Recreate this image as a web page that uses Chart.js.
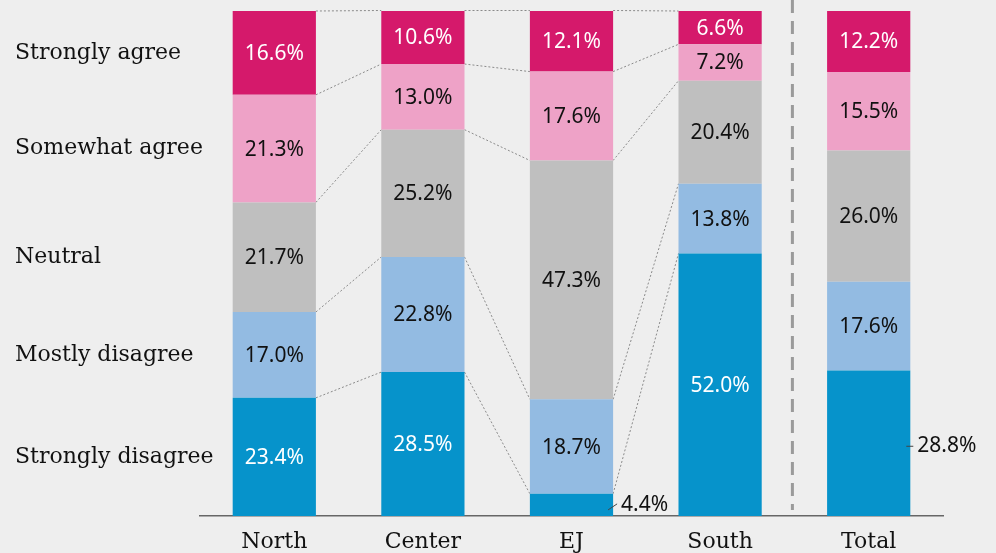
<!DOCTYPE html>
<html>
<head>
<meta charset="utf-8">
<script src="https://cdn.jsdelivr.net/npm/chart.js@4"></script>
<style>
  html, body { margin: 0; padding: 0; background: #eeeeee; }
  #wrap { width: 996px; height: 553px; }
</style>
</head>
<body>
<div id="wrap"><canvas id="chart" width="996" height="553"></canvas></div>
<script>
var regions = ['North', 'Center', 'EJ', 'South', 'Total'];
var answers = ['Strongly disagree', 'Mostly disagree', 'Neutral', 'Somewhat agree', 'Strongly agree'];

// bottom to top
var stronglyDisagree = [23.4, 28.5, 4.4, 52.0, 28.8];
var mostlyDisagree   = [17.0, 22.8, 18.7, 13.8, 17.6];
var neutral          = [21.7, 25.2, 47.3, 20.4, 26.0];
var somewhatAgree    = [21.3, 13.0, 17.6, 7.2, 15.5];
var stronglyAgree    = [16.6, 10.6, 12.1, 6.6, 12.2];

var colors = ['#0693cb', '#93bbe2', '#bfbfbf', '#eea2c7', '#d5196b'];
var labelColors = ['#ffffff', '#111111', '#111111', '#111111', '#ffffff'];
var serif = '"DejaVu Serif", serif';
var sans = '"Noto Sans", sans-serif';

var series = [stronglyDisagree, mostlyDisagree, neutral, somewhatAgree, stronglyAgree];

// dotted lines joining the segment edges of neighbouring bars (not to Total)
var connectors = {
    id: 'connectors',
    beforeDatasetsDraw: function(chart) {
        var ctx = chart.ctx;
        ctx.save();
        ctx.strokeStyle = '#8a8a8a';
        ctx.lineWidth = 1;
        ctx.setLineDash([2, 2]);
        for (var d = 0; d < series.length; d++) {
            var bars = chart.getDatasetMeta(d).data;
            for (var j = 0; j < 3; j++) {
                var a = bars[j], b = bars[j + 1];
                ctx.beginPath();
                ctx.moveTo(a.x + a.width / 2, a.y);
                ctx.lineTo(b.x - b.width / 2, b.y);
                ctx.stroke();
            }
        }
        // separator before Total
        var x = chart.scales.x;
        var sepX = (x.getPixelForValue(3) + x.getPixelForValue(4)) / 2 - 2;
        ctx.strokeStyle = '#9a9a9a';
        ctx.lineWidth = 3;
        ctx.setLineDash([13, 8]);
        ctx.beginPath();
        ctx.moveTo(sepX, 0);
        ctx.lineTo(sepX, chart.chartArea.bottom - 6);
        ctx.stroke();
        ctx.restore();
    }
};

var valueLabels = {
    id: 'valueLabels',
    afterDatasetsDraw: function(chart) {
        var ctx = chart.ctx;
        ctx.save();
        ctx.font = '21px ' + sans;
        ctx.textBaseline = 'middle';
        for (var d = 0; d < series.length; d++) {
            var bars = chart.getDatasetMeta(d).data;
            for (var j = 0; j < bars.length; j++) {
                var el = bars[j];
                var txt = series[d][j].toFixed(1) + '%';
                var cy = (el.y + el.base) / 2;
                var right = el.x + el.width / 2;
                if (d === 0 && j === 2) {
                    // small EJ segment: label outside with a leader
                    ctx.strokeStyle = '#444';
                    ctx.lineWidth = 1;
                    ctx.beginPath();
                    ctx.moveTo(right - 5, cy + 5);
                    ctx.lineTo(right + 4, cy - 1);
                    ctx.stroke();
                    ctx.fillStyle = '#111';
                    ctx.textAlign = 'left';
                    ctx.fillText(txt, right + 8, cy);
                } else if (d === 0 && j === 4) {
                    ctx.strokeStyle = '#444';
                    ctx.lineWidth = 1;
                    ctx.beginPath();
                    ctx.moveTo(right - 4, cy + 3);
                    ctx.lineTo(right + 3, cy + 3);
                    ctx.stroke();
                    ctx.fillStyle = '#111';
                    ctx.textAlign = 'left';
                    ctx.fillText(txt, right + 7, cy + 3);
                } else {
                    ctx.fillStyle = labelColors[d];
                    ctx.textAlign = 'center';
                    ctx.fillText(txt, el.x, cy + 1);
                }
            }
        }
        // answer names on the left, beside the North bar
        ctx.font = '22px ' + serif;
        ctx.fillStyle = '#111';
        ctx.textAlign = 'left';
        for (var k = 0; k < answers.length; k++) {
            var e = chart.getDatasetMeta(k).data[0];
            ctx.fillText(answers[k], 15, (e.y + e.base) / 2);
        }
        ctx.restore();
    }
};

var datasets = [];
for (var i = 0; i < series.length; i++) {
    datasets.push({
        label: answers[i],
        data: series[i],
        backgroundColor: colors[i],
        borderWidth: 0,
        barPercentage: 0.56,
        categoryPercentage: 1.0
    });
}

new Chart(document.getElementById('chart'), {
    type: 'bar',
    data: { labels: regions, datasets: datasets },
    options: {
        responsive: false,
        animation: false,
        layout: { padding: { top: 11, left: 200, right: 53, bottom: 0 } },
        plugins: {
            legend: { display: false },
            tooltip: { enabled: false }
        },
        scales: {
            x: {
                stacked: true,
                grid: { display: false, drawTicks: false },
                border: { display: true, color: '#666666', width: 1.5 },
                ticks: {
                    color: '#111',
                    font: { family: serif, size: 22, lineHeight: 1 },
                    padding: 15
                },
                afterFit: function(scale) { scale.height = 37; }
            },
            y: {
                stacked: true,
                display: false,
                min: 0,
                max: 100
            }
        }
    },
    plugins: [connectors, valueLabels]
});
</script>
</body>
</html>
